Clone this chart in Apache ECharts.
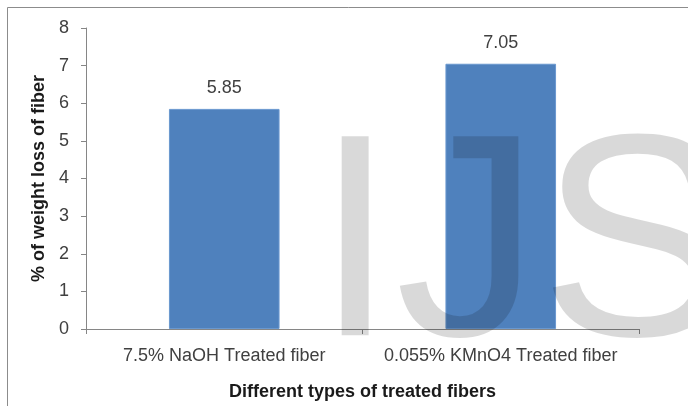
<!DOCTYPE html>
<html>
<head>
<meta charset="utf-8">
<script src="https://cdn.jsdelivr.net/npm/echarts@6/dist/echarts.min.js"></script>
<style>
  html, body { margin: 0; padding: 0; background: #fff; }
  #chart { width: 688px; height: 406px; }
</style>
</head>
<body>
<div id="chart"></div>
<script>
// Weight loss of treated fibers
const categories = ['7.5% NaOH Treated fiber', '0.055% KMnO4 Treated fiber'];
const weightLoss = [5.85, 7.05];
const yTicks = [0, 1, 2, 3, 4, 5, 6, 7, 8];

const textColor = '#404040';
const axisColor = '#868686';
const font = 'Liberation Sans, Arial, sans-serif';

const chart = echarts.init(document.getElementById('chart'), null, { renderer: 'canvas' });

chart.setOption({
  backgroundColor: '#ffffff',
  animation: false,
  grid: { left: 86, right: 49, top: 28, bottom: 73, containLabel: false },
  xAxis: {
    type: 'category',
    data: categories,
    name: 'Different types of treated fibers',
    nameLocation: 'middle',
    nameGap: 54,
    nameTextStyle: { fontFamily: font, fontSize: 18, fontWeight: 'bold', color: '#1a1a1a' },
    axisLine: { lineStyle: { color: axisColor, width: 1 } },
    axisTick: { show: true, alignWithLabel: false, length: 5, lineStyle: { color: axisColor } },
    axisLabel: { fontFamily: font, fontSize: 18, color: textColor, margin: 18, interval: 0 },
    splitLine: { show: false }
  },
  yAxis: {
    type: 'value',
    min: yTicks[0],
    max: yTicks[yTicks.length - 1],
    interval: 1,
    name: '% of weight loss of fiber',
    nameLocation: 'middle',
    nameGap: 37,
    nameTextStyle: { fontFamily: font, fontSize: 18, fontWeight: 'bold', color: '#1a1a1a' },
    axisLine: { show: true, lineStyle: { color: axisColor, width: 1 } },
    axisTick: { show: true, length: 5, lineStyle: { color: axisColor } },
    axisLabel: { fontFamily: font, fontSize: 18, color: textColor, margin: 17 },
    splitLine: { show: false }
  },
  series: [{
    type: 'bar',
    data: weightLoss,
    barWidth: '40%',
    itemStyle: { color: '#4f81bd', borderColor: '#6a98cf', borderWidth: 1 },
    label: {
      show: true,
      position: 'top',
      distance: 12,
      fontFamily: font,
      fontSize: 18,
      color: textColor,
      formatter: p => p.value.toFixed(2)
    }
  }],
  graphic: [
    {
      type: 'rect',
      z: 0,
      silent: true,
      shape: { x: 7.5, y: 7.5, width: 720, height: 440 },
      style: { fill: 'none', stroke: '#8c8c8c', lineWidth: 1 }
    },
    {
      type: 'text',
      z: 100,
      silent: true,
      x: 315,
      y: 111,
      style: {
        text: 'IJS',
        fontSize: 289,
        fontFamily: 'Liberation Sans',
        fill: 'rgba(0,0,0,0.15)'
      }
    }
  ]
});
</script>
</body>
</html>
